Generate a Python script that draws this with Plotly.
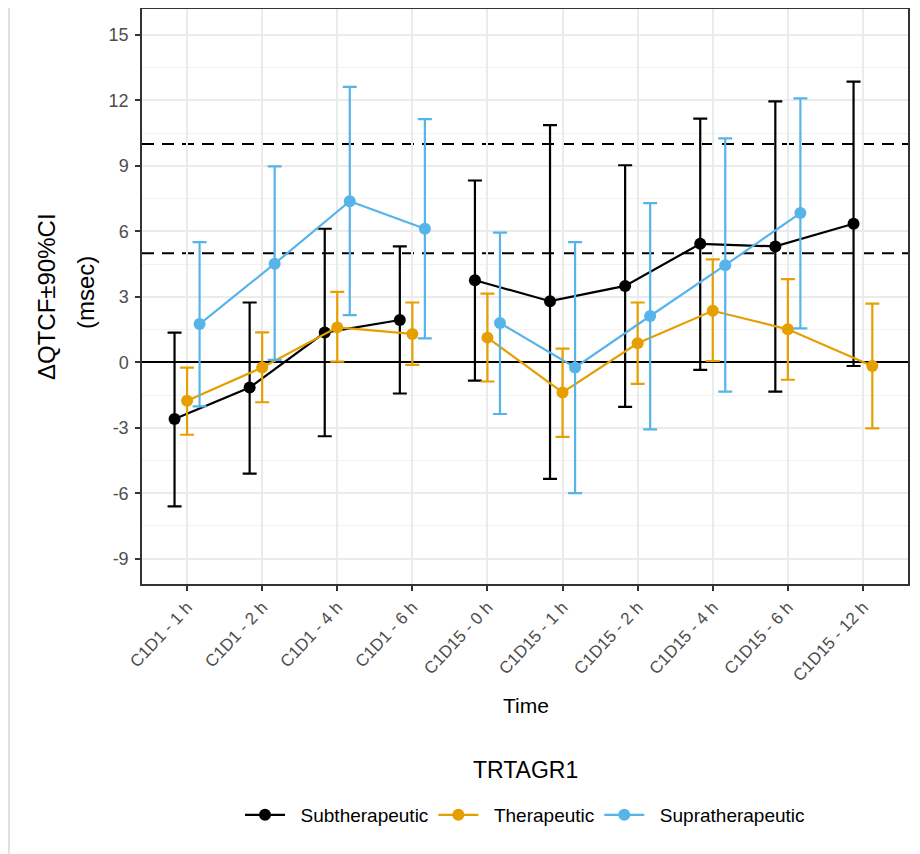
import plotly.graph_objects as go

# ---------------- data ----------------
labels = ["C1D1 - 1 h", "C1D1 - 2 h", "C1D1 - 4 h", "C1D1 - 6 h", "C1D15 - 0 h",
          "C1D15 - 1 h", "C1D15 - 2 h", "C1D15 - 4 h", "C1D15 - 6 h", "C1D15 - 12 h"]

groups = ["Subtherapeutic", "Therapeutic", "Supratherapeutic"]

sub_mean = [-2.60, -1.16, 1.36, 1.94, 3.76, 2.80, 3.50, 5.43, 5.31, 6.35]
sub_lo = [-6.60, -5.10, -3.39, -1.43, -0.84, -5.34, -2.04, -0.35, -1.34, -0.17]
sub_hi = [1.36, 2.74, 6.12, 5.31, 8.33, 10.87, 9.03, 11.17, 11.96, 12.86]

ther_mean = [-1.76, -0.24, 1.60, 1.30, 1.13, -1.38, 0.87, 2.36, 1.51, -0.17]
ther_lo = [-3.32, -1.83, 0.03, -0.12, -0.88, -3.42, -0.99, 0.06, -0.80, -3.03]
ther_hi = [-0.24, 1.37, 3.23, 2.74, 3.15, 0.63, 2.74, 4.72, 3.81, 2.69]

supra_mean = [1.75, 4.52, 7.38, 6.12, 1.80, -0.24, 2.12, 4.45, 6.84, None]
supra_lo = [-2.02, 0.11, 2.16, 1.10, -2.37, -6.00, -3.07, -1.34, 1.55, None]
supra_hi = [5.51, 8.98, 12.62, 11.14, 5.94, 5.51, 7.29, 10.26, 12.09, None]

ref_dashed = [5, 10]

yticks = [-9, -6, -3, 0, 3, 6, 9, 12, 15]
yticktext = ["-9", "-6", "-3", "0", "3", "6", "9", "12", "15"]

# ---------------- styling ----------------
colors = ["#000000", "#E69F00", "#56B4E9"]
series = [(sub_mean, sub_lo, sub_hi), (ther_mean, ther_lo, ther_hi),
          (supra_mean, supra_lo, supra_hi)]
FONT = "Liberation Sans, Arial, sans-serif"
DODGE = 0.5
OFF = 8  # default page body margin
NBSP = "\u00a0"

# figure geometry (px)
W, H = 912, 846
L, R, T, B = 134, 12, 1, 270
PW, PH = W - L - R, H - T - B


def py(pix):  # page pixel y -> paper y
    return (H - B - (pix - OFF)) / PH


def px(pix):  # page pixel x -> paper x
    return (pix - OFF - L) / PW


# dodge positions, computed like position_dodge
n_cat = len(labels)
xr = [-0.6, n_cat - 1 + 0.6]
xpos = [[None] * n_cat for _ in series]
for i in range(n_cat):
    present = [g for g, s in enumerate(series) if s[0][i] is not None]
    n = len(present)
    for k, g in enumerate(present):
        xpos[g][i] = i + DODGE * ((k + 0.5) / n - 0.5)

days = [lab.split(" - ")[0] for lab in labels]

fig = go.Figure()

for v in ref_dashed:
    fig.add_shape(type="line", xref="x", x0=xr[0], x1=xr[1], yref="y", y0=v, y1=v,
                  line=dict(color="black", width=2, dash="12px,8px"), layer="below")

for g, (mean, lo, hi) in enumerate(series):
    xs, ys, up, dn = [], [], [], []
    for i in range(n_cat):
        if i > 0 and days[i] != days[i - 1]:
            xs.append(None); ys.append(None); up.append(None); dn.append(None)
        if mean[i] is None:
            continue
        xs.append(xpos[g][i])
        ys.append(mean[i])
        up.append(hi[i] - mean[i])
        dn.append(mean[i] - lo[i])
    fig.add_trace(go.Scatter(
        x=xs, y=ys, mode="lines+markers", name=NBSP * 2 + groups[g],
        line=dict(color=colors[g], width=2.2),
        marker=dict(color=colors[g], size=12),
        error_y=dict(type="data", symmetric=False, array=up, arrayminus=dn,
                     color=colors[g], thickness=2.2, width=7),
        connectgaps=False,
    ))

# thin light frame line at the far left of the image
fig.add_shape(type="line", xref="paper", yref="paper", x0=px(OFF + 1), x1=px(OFF + 1),
              y0=py(H + OFF), y1=py(OFF), line=dict(color="#d6d6d6", width=1.5))

annos = [
    dict(text="ΔQTCF±90%CI", x=px(46), y=py(297), textangle=-90, size=24),
    dict(text="(msec)", x=px(86), y=py(293), textangle=-90, size=24),
    dict(text="Time", x=px(526), y=py(705), textangle=0, size=21),
    dict(text="TRTAGR1", x=px(525), y=py(770), textangle=0, size=23),
]
for a in annos:
    fig.add_annotation(text=a["text"], x=a["x"], y=a["y"], xref="paper", yref="paper",
                       xanchor="center", yanchor="middle", textangle=a["textangle"],
                       showarrow=False, font=dict(family=FONT, size=a["size"], color="black"))

fig.update_layout(
    width=W, height=H,
    margin=dict(l=L, r=R, t=T, b=B, autoexpand=False),
    paper_bgcolor="white", plot_bgcolor="white",
    font=dict(family=FONT, color="black"),
    showlegend=True,
    legend=dict(orientation="h", x=px(525), xanchor="center", y=py(815), yanchor="middle",
                font=dict(family=FONT, size=19, color="black"), bgcolor="rgba(0,0,0,0)",
                itemwidth=40),
)

fig.update_xaxes(
    range=xr, tickmode="array", tickvals=list(range(n_cat)),
    ticktext=labels, tickangle=-47,
    tickfont=dict(family=FONT, size=17, color="#4d4d4d"),
    showgrid=True, gridcolor="#EBEBEB", gridwidth=1.5,
    zeroline=False, showline=True, mirror=True, linecolor="#333333", linewidth=1.5,
    ticks="outside", ticklen=5, tickcolor="#333333", tickwidth=1.5,
)
fig.update_yaxes(
    range=[-10.16, 16.19], tickmode="array", tickvals=yticks, ticktext=yticktext,
    tickfont=dict(family=FONT, size=18, color="#4d4d4d"),
    showgrid=True, gridcolor="#EBEBEB", gridwidth=1.5,
    minor=dict(tickmode="array", tickvals=[t + 1.5 for t in yticks] + [yticks[0] - 1.5],
               showgrid=True, gridcolor="#F2F2F2", gridwidth=1, ticks=""),
    zeroline=True, zerolinecolor="black", zerolinewidth=2,
    showline=True, mirror=True, linecolor="#333333", linewidth=1.5,
    ticks="outside", ticklen=5, tickcolor="#333333", tickwidth=1.5,
    ticklabelstandoff=3,
)

fig.write_html("out.html")
